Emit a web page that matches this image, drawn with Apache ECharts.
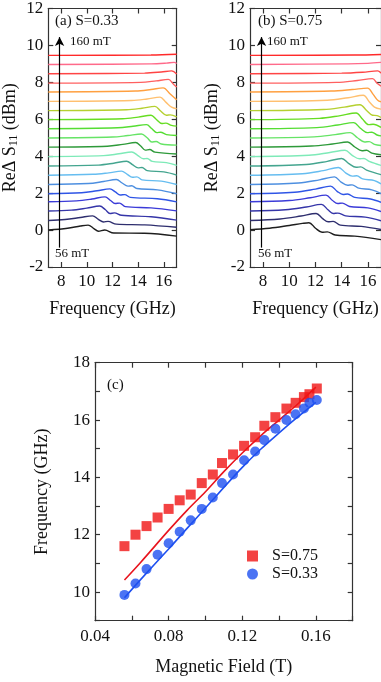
<!DOCTYPE html>
<html>
<head>
<meta charset="utf-8">
<script src="https://cdn.jsdelivr.net/npm/echarts@6/dist/echarts.min.js"></script>
<style>
  html, body { margin: 0; padding: 0; background: #fff; }
  #chart { width: 381px; height: 682px; }
</style>
</head>
<body>
<div id="chart"></div>
<script>
// spectra, panel (a) S=0.33 : one [GHz, dBm] list per field step, 56 mT at the bottom, 160 mT on top
var specA = [
  [[7,0],[8.5,0.1],[9.5,0.22],[10.1,0.27],[10.55,0.08],[10.9,-0.06],[11.4,0.0],[12.1,-0.16],[14.5,-0.17],[17,-0.33]],
  [[7,0.52],[8.3,0.57],[9.5,0.68],[10.45,0.77],[10.9,0.58],[11.3,0.44],[11.65,0.47],[12.3,0.32],[14.5,0.28],[17,0.15]],
  [[7,1.03],[8.8,1.08],[10,1.19],[11.0,1.3],[11.45,1.1],[11.8,0.9],[12.15,0.93],[12.7,0.8],[15,0.72],[17,0.54]],
  [[7,1.53],[9.2,1.58],[10.4,1.68],[11.42,1.8],[11.85,1.6],[12.2,1.44],[12.55,1.46],[13.0,1.27],[15,1.2],[17,1.04]],
  [[7,1.97],[9.6,2.02],[10.8,2.13],[11.8,2.23],[12.25,2.05],[12.6,1.9],[12.95,1.92],[13.4,1.77],[15.5,1.7],[17,1.53]],
  [[7,2.47],[10.1,2.52],[11.3,2.63],[12.3,2.74],[12.75,2.55],[13.2,2.38],[13.5,2.4],[13.9,2.25],[15.5,2.18],[17,1.97]],
  [[7,2.97],[10.5,3.02],[11.7,3.1],[12.7,3.19],[13.15,3.02],[13.55,2.86],[13.9,2.88],[14.3,2.72],[15.8,2.65],[17,2.47]],
  [[7,3.47],[10.9,3.52],[12.1,3.62],[13.1,3.73],[13.55,3.55],[14.0,3.37],[14.3,3.39],[14.7,3.22],[16,3.15],[17,2.98]],
  [[7,3.98],[11.3,4.03],[12.5,4.13],[13.5,4.23],[13.95,4.05],[14.4,3.86],[14.7,3.88],[15.1,3.72],[16.2,3.65],[17,3.5]],
  [[7,4.49],[11.6,4.54],[12.8,4.64],[13.8,4.74],[14.2,4.55],[14.55,4.33],[14.9,4.36],[15.3,4.22],[17,4.12]],
  [[7,4.99],[12,5.04],[13.2,5.12],[14.25,5.2],[14.7,5.0],[15.06,4.77],[15.4,4.8],[15.8,4.66],[17,4.6]],
  [[7,5.49],[12.4,5.54],[13.6,5.62],[14.65,5.71],[15.05,5.5],[15.45,5.28],[15.75,5.3],[16.2,5.17],[17,5.12]],
  [[7,5.98],[12.8,6.03],[14,6.12],[15.0,6.22],[15.4,6.0],[15.84,5.77],[16.15,5.79],[16.6,5.67],[17,5.63]],
  [[7,6.47],[13.1,6.52],[14.3,6.6],[15.3,6.7],[15.75,6.45],[16.2,6.22],[16.5,6.24],[17,6.13]],
  [[7,6.97],[13.5,7.02],[14.7,7.1],[15.7,7.2],[16.15,6.93],[16.6,6.66],[17,6.57]],
  [[7,7.48],[13.8,7.53],[15,7.61],[15.95,7.7],[16.45,7.4],[16.9,7.12],[17,7.06]],
  [[7,7.96],[14.2,8.0],[15.4,8.08],[16.35,8.16],[16.75,7.9],[17,7.75]],
  [[7,8.47],[14.5,8.5],[15.8,8.56],[16.6,8.62],[17,8.45]],
  [[7,8.97],[15,9.0],[16.2,9.04],[16.8,9.08],[17,9.02]],
  [[7,9.46],[15,9.48],[17,9.52]]
];

// spectra, panel (b) S=0.75
var specB = [
  [[7,0.02],[8.5,0.1],[10,0.25],[11.0,0.36],[11.5,0.4],[12.0,0.1],[12.5,-0.12],[12.9,-0.1],[13.5,-0.27],[15,-0.33],[17,-0.52]],
  [[7,0.52],[9.3,0.6],[10.9,0.76],[12.05,0.9],[12.55,0.62],[12.97,0.45],[13.35,0.47],[13.9,0.27],[15.5,0.2],[17,0.03]],
  [[7,1.03],[9.7,1.1],[11.3,1.25],[12.45,1.39],[12.95,1.1],[13.35,0.9],[13.7,0.92],[14.3,0.77],[15.8,0.7],[17,0.5]],
  [[7,1.53],[10,1.6],[11.6,1.75],[12.8,1.89],[13.3,1.6],[13.7,1.44],[14.05,1.46],[14.6,1.28],[16,1.2],[17,1.0]],
  [[7,1.97],[10.4,2.05],[12,2.22],[13.15,2.38],[13.65,2.1],[14.1,1.93],[14.45,1.95],[15,1.77],[16.2,1.68],[17,1.5]],
  [[7,2.47],[10.7,2.55],[12.3,2.72],[13.45,2.88],[13.95,2.6],[14.45,2.43],[14.8,2.45],[15.3,2.27],[16.3,2.18],[17,1.98]],
  [[7,2.97],[11,3.05],[12.6,3.22],[13.75,3.39],[14.3,3.1],[14.8,2.92],[15.15,2.94],[15.6,2.77],[16.5,2.68],[17,2.5]],
  [[7,3.47],[11.3,3.55],[12.9,3.72],[14.0,3.88],[14.55,3.6],[15.1,3.4],[15.45,3.42],[15.9,3.25],[17,3.0]],
  [[7,3.98],[11.5,4.05],[13.1,4.2],[14.25,4.32],[14.8,4.05],[15.35,3.86],[15.7,3.88],[16.1,3.72],[17,3.5]],
  [[7,4.49],[11.7,4.55],[13.3,4.66],[14.45,4.77],[15,4.5],[15.55,4.3],[15.9,4.32],[16.3,4.17],[17,4.08]],
  [[7,4.99],[11.9,5.05],[13.5,5.17],[14.65,5.28],[15.2,5.0],[15.75,4.77],[16.1,4.79],[16.5,4.64],[17,4.58]],
  [[7,5.49],[12.1,5.55],[13.7,5.69],[14.9,5.82],[15.45,5.5],[15.95,5.28],[16.3,5.3],[16.7,5.15],[17,5.1]],
  [[7,5.98],[12.3,6.05],[13.9,6.2],[15.1,6.34],[15.6,6.0],[16.05,5.71],[16.4,5.73],[17,5.56]],
  [[7,6.47],[12.6,6.53],[14.2,6.66],[15.4,6.79],[15.9,6.48],[16.35,6.22],[16.7,6.2],[17,6.1]],
  [[7,6.97],[12.9,7.03],[14.5,7.17],[15.65,7.3],[16.1,6.95],[16.5,6.66],[17,6.55]],
  [[7,7.48],[13.2,7.53],[14.8,7.61],[15.97,7.69],[16.4,7.35],[16.75,7.03],[17,6.95]],
  [[7,7.96],[13.6,8.0],[15.2,8.1],[16.35,8.2],[16.7,7.95],[17,7.8]],
  [[7,8.47],[14,8.5],[15.6,8.55],[16.75,8.62],[17,8.5]],
  [[7,8.97],[14.5,9.0],[16,9.03],[17,9.08]],
  [[7,9.46],[15,9.48],[17,9.51]]
];

var curveColors = [
  '#1e1e1e', '#2e2e6e', '#3535a8', '#3b3bd8', '#2f55e6',
  '#4d8fe0', '#66bdf0', '#44a58f', '#7eeab8', '#2e9a3a',
  '#66e466', '#55dd33', '#66dd22', '#b5d030', '#ffc070',
  '#ffa040', '#ff6060', '#ff4444', '#ff6a8a', '#ff2a2a'
];

var freqTicks = [8, 10, 12, 14, 16];

// panel (c)
var fieldT = [0.056, 0.062, 0.068, 0.074, 0.080, 0.086, 0.092, 0.098, 0.104, 0.109,
              0.115, 0.121, 0.127, 0.132, 0.138, 0.144, 0.149, 0.1535, 0.1565, 0.1605];
var freqS075 = [11.6, 12.0, 12.3, 12.6, 12.9, 13.2, 13.4, 13.8, 14.1, 14.5,
                14.8, 15.1, 15.4, 15.8, 16.1, 16.4, 16.6, 16.8, 16.9, 17.1];
var freqS033 = [9.9, 10.3, 10.8, 11.3, 11.7, 12.1, 12.5, 12.9, 13.3, 13.8,
                14.1, 14.6, 14.9, 15.3, 15.7, 16.0, 16.2, 16.4, 16.6, 16.7];
var fitField = [0.056, 0.065, 0.08, 0.09, 0.10, 0.11, 0.12, 0.13, 0.14, 0.15, 0.16];
var fitS075 = [10.42, 11.05, 12.15, 12.85, 13.5, 14.2, 14.85, 15.45, 16.0, 16.55, 17.15];
var fitS033 = [9.8, 10.45, 11.5, 12.22, 12.93, 13.65, 14.35, 14.98, 15.55, 16.1, 16.62];

var serif = "'Liberation Serif', 'DejaVu Serif', serif";
var axisColor = '#333';

function frameAxis(extra) {
  var ax = {
    axisLine: { show: true, onZero: false, lineStyle: { color: axisColor, width: 1.2 } },
    axisTick: { show: true, inside: true, length: 5, lineStyle: { color: axisColor, width: 1.2 } },
    axisLabel: { show: false },
    splitLine: { show: false }
  };
  for (var k in extra) ax[k] = extra[k];
  return ax;
}

var specName = {
  nameLocation: 'middle',
  name: '{n|ReΔ S}{s|11}{n| (dBm)}',
  nameTextStyle: {
    rich: {
      n: { fontFamily: serif, fontSize: 18, color: '#111' },
      s: { fontFamily: serif, fontSize: 12, color: '#111', padding: [8, 0, 0, 0] }
    }
  }
};

function specX(grid, pos, labels) {
  var ax = frameAxis({ type: 'value', gridIndex: grid, position: pos, min: 7, max: 17 });
  ax.axisTick.customValues = freqTicks;
  if (labels) {
    ax.axisLabel = { show: true, customValues: freqTicks, fontFamily: serif, fontSize: 17, color: '#111', margin: 6 };
    ax.name = 'Frequency (GHz)';
    ax.nameLocation = 'middle';
    ax.nameGap = 33;
    ax.nameTextStyle = { fontFamily: serif, fontSize: 18, color: '#111' };
  }
  return ax;
}

function specY(grid, pos, labels) {
  var ax = frameAxis({ type: 'value', gridIndex: grid, position: pos, min: -2, max: 12, interval: 2 });
  if (labels) {
    ax.axisLabel = { show: true, fontFamily: serif, fontSize: 17, color: '#111', margin: 5 };
    for (var k in specName) ax[k] = specName[k];
    ax.nameGap = 28;
  }
  return ax;
}

var xAxes = [
  specX(0, 'bottom', true), specX(0, 'top', false),
  specX(1, 'bottom', true), specX(1, 'top', false),
  frameAxis({
    type: 'value', gridIndex: 2, position: 'bottom', min: 0.04, max: 0.18, interval: 0.02,
    axisLabel: {
      show: true, fontFamily: serif, fontSize: 17, color: '#111', margin: 7,
      formatter: function (v) { return Math.round(v * 100) % 4 === 0 ? v.toFixed(2) : ''; }
    },
    name: 'Magnetic Field (T)', nameLocation: 'middle', nameGap: 38,
    nameTextStyle: { fontFamily: serif, fontSize: 18, color: '#111' }
  }),
  frameAxis({ type: 'value', gridIndex: 2, position: 'top', min: 0.04, max: 0.18, interval: 0.02 })
];

var yAxes = [
  specY(0, 'left', true), specY(0, 'right', false),
  specY(1, 'left', true), specY(1, 'right', false),
  frameAxis({
    type: 'value', gridIndex: 2, position: 'left', min: 9, max: 18, interval: 1,
    axisLabel: {
      show: true, fontFamily: serif, fontSize: 17, color: '#111', margin: 5,
      formatter: function (v) { return v % 2 === 0 ? String(v) : ''; }
    },
    name: 'Frequency (GHz)', nameLocation: 'middle', nameGap: 44,
    nameTextStyle: { fontFamily: serif, fontSize: 18, color: '#111' }
  }),
  frameAxis({ type: 'value', gridIndex: 2, position: 'right', min: 9, max: 18, interval: 1 })
];

var series = [];
function addSpectra(list, axisIdx) {
  list.forEach(function (pts, i) {
    var s = {
      type: 'line',
      xAxisIndex: axisIdx, yAxisIndex: axisIdx,
      data: pts,
      smooth: 0.35,
      showSymbol: false,
      silent: true,
      lineStyle: { color: curveColors[i], width: 1.4 },
      z: 3
    };
    if (i === 0) {
      s.markLine = {
        silent: true,
        symbol: ['none', 'arrow'],
        symbolSize: [7, 9],
        label: { show: false },
        lineStyle: { color: '#000', type: 'solid', width: 1.2 },
        data: [[{ coord: [7.88, -0.95] }, { coord: [7.88, 10.45] }]]
      };
    }
    series.push(s);
  });
}
addSpectra(specA, 0);
addSpectra(specB, 2);

function pairs(xs, ys) {
  return xs.map(function (x, i) { return [x, ys[i]]; });
}

series.push({
  name: 'fit S=0.75', type: 'line', xAxisIndex: 4, yAxisIndex: 4,
  data: pairs(fitField, fitS075), smooth: 0.3, showSymbol: false, silent: true,
  lineStyle: { color: '#e8141e', width: 1.6 }, z: 2
});
series.push({
  name: 'fit S=0.33', type: 'line', xAxisIndex: 4, yAxisIndex: 4,
  data: pairs(fitField, fitS033), smooth: 0.3, showSymbol: false, silent: true,
  lineStyle: { color: '#1e50f0', width: 1.6 }, z: 2
});
series.push({
  name: 'S=0.75', type: 'scatter', xAxisIndex: 4, yAxisIndex: 4,
  data: pairs(fieldT, freqS075), symbol: 'rect', symbolSize: 10,
  itemStyle: { color: '#f01414' }, z: 4
});
series.push({
  name: 'S=0.33', type: 'scatter', xAxisIndex: 4, yAxisIndex: 4,
  data: pairs(fieldT, freqS033), symbol: 'circle', symbolSize: 10,
  itemStyle: { color: '#1e50f0' }, z: 4
});

function note(text, x, y, size) {
  return {
    type: 'text', left: x, top: y,
    style: { text: text, fontFamily: serif, fontSize: size, fill: '#111' }
  };
}

var chart = echarts.init(document.getElementById('chart'), null, { renderer: 'canvas' });
chart.setOption({
  backgroundColor: '#fff',
  animation: false,
  grid: [
    { left: 48.3, right: 204.3, top: 8, bottom: 415 },
    { left: 250, right: -2.5, top: 8, bottom: 415 },
    { left: 95, right: 28.3, top: 362.7, bottom: 61.3 }
  ],
  xAxis: xAxes,
  yAxis: yAxes,
  legend: {
    data: ['S=0.75', 'S=0.33'],
    orient: 'vertical',
    left: 242, top: 543,
    itemWidth: 11, itemHeight: 11, itemGap: 2,
    textStyle: { fontFamily: serif, fontSize: 16, color: '#111', padding: [0, 0, 0, 9] }
  },
  graphic: [
    note('(a) S=0.33', 55, 14, 15),
    note('160 mT', 70, 35, 13),
    note('56 mT', 55, 247, 13),
    note('(b) S=0.75', 258, 14, 15),
    note('160 mT', 267, 35, 13),
    note('56 mT', 258, 247, 13),
    note('(c)', 107, 378, 15)
  ],
  series: series
});
</script>
</body>
</html>
